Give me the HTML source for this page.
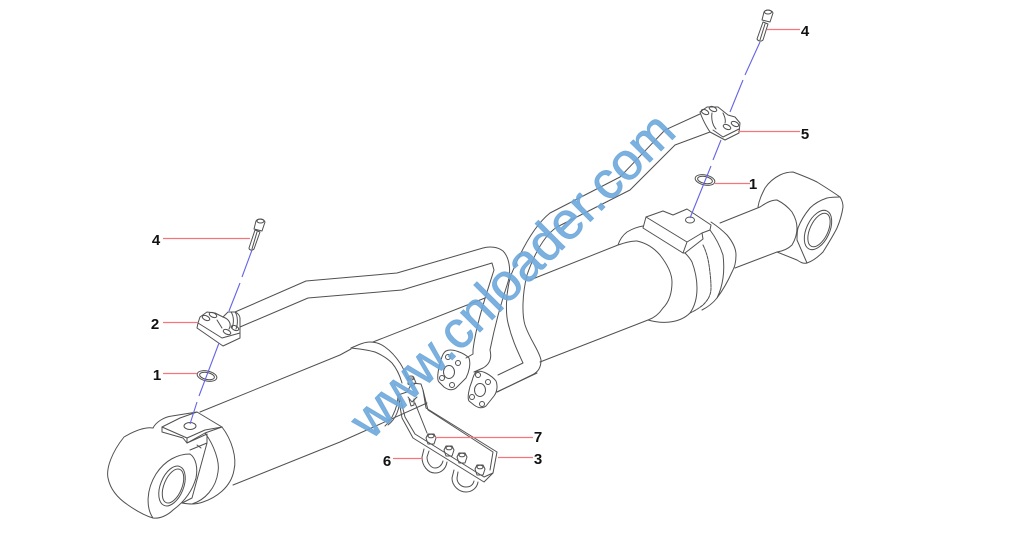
<!DOCTYPE html>
<html><head><meta charset="utf-8"><style>
html,body{margin:0;padding:0;background:#fff;width:1024px;height:551px;overflow:hidden}
svg{display:block}
.l path,.l ellipse,.l circle{fill:none;stroke:#505050;stroke-width:1;stroke-linejoin:round;stroke-linecap:round}
.r{stroke:#f4757b;stroke-width:1.2;fill:none}
.b{stroke:#6464e6;stroke-width:1.1;fill:none}
.t{font:bold 15px "Liberation Sans",sans-serif;fill:#111;text-anchor:middle}
</style></head><body>
<svg width="1024" height="551" viewBox="0 0 1024 551" xmlns="http://www.w3.org/2000/svg">
<g class="l">
<!-- cylinder long edges -->
<path d="M200 412L340 355L351 349"/>
<path d="M373 342L485 298"/>
<path d="M530 280L618 245"/>
<path d="M233 485L340 442L427 403"/>
<path d="M497 392L537 373"/>
<path d="M540 362L648 320"/>
<!-- mid band -->
<path d="M351 348C358 345 364 342 370 342C376 342 381 344 385 347C392 352 396 357 400 363C404 369 406 375 408 380"/>
<path d="M351 348C360 349 368 350 375 352C382 355 387 358 392 363C397 369 400 376 402 383"/>
<path d="M400 397C400 404 399 408 397 413C395 418 392 422 388 425"/>
<path d="M398 395C398 402 396 409 393 415C391 420 388 423 385 426"/>
<!-- right barrel end and rings -->
<path d="M618 245C624 243 630 241 637 241C646 243 654 248 660 255C667 264 672 273 672 282C672 293 669 302 663 308C659 314 654 318 648 320"/>
<path d="M618 245C620 239 623 235 627 232C632 229 637 227 643 226"/>
<path d="M648 320C655 322 662 323 670 322C678 321 685 318 690 313C695 306 697 298 697 288C697 279 695 270 692 262C690 258 687 255 685 253"/>
<path d="M703 245C706 251 708 258 709 265C710 272 711 280 711 288C711 295 708 300 703 305C698 309 694 311 690 313" stroke-dasharray="3 1"/>
<path d="M710 230C716 238 720 246 723 255C724 263 724 271 723 278C722 285 720 292 717 298C713 303 708 307 702 310"/>
<path d="M711 222C717 226 722 230 727 235C732 241 736 248 736 255C736 261 735 267 732 272C728 281 723 290 717 298"/>
<path d="M720 223L760 207C766 203 771 200 777 200C783 203 788 207 792 212C795 217 797 222 797 228C797 234 795 240 792 245C788 249 783 251 777 252L735 268"/>
<!-- right eye -->
<path d="M758 207C759 200 762 194 765 188C769 182 774 178 780 175C784 173 789 172 793 172C801 175 809 178 817 182C825 187 833 192 840 197C842 200 843 203 843 207C842 214 840 221 837 228C833 236 828 244 823 252C818 257 813 261 807 263C803 264 800 262 797 260L777 252"/>
<path d="M797 240C797 236 797 232 798 228C801 220 805 214 810 208C815 203 821 200 827 198C832 197 836 197 840 197"/>
<path d="M797 240L807 263"/>
<ellipse cx="818" cy="230" rx="11.500" ry="21" transform="rotate(25 818 230)"/>
<ellipse cx="819" cy="230" rx="9" ry="18" transform="rotate(25 819 230)"/>
<!-- right block -->
<path d="M643 228L646 217L663 211L673 215L687 209L711 225L710 230L702 233L703 239L685 253L683 253Z"/>
<path d="M646 217L687 242L683 253M687 242L702 233"/>
<ellipse cx="690" cy="220" rx="4.500" ry="3"/>
<!-- left eye -->
<path d="M153 428C146 427 136 430 124 437C112 452 106 468 108 478C110 488 116 497 128 505C138 512 146 516 153 518C160 519 168 515 173 510"/>
<path d="M153 518C146 508 146 490 156 474C165 460 178 454 190 454C196 458 198 468 196 478C192 492 184 502 173 510"/>
<ellipse cx="172" cy="486" rx="11.500" ry="21" transform="rotate(22 172 486)"/>
<ellipse cx="173" cy="486" rx="9" ry="18" transform="rotate(22 173 486)"/>
<path d="M153 428C156 422 164 417 172 416L197 412"/>
<path d="M222 427C232 440 237 458 234 470C231 488 215 498 203 502C195 505 188 504 182 503"/>
<path d="M205 433C214 445 220 462 218 472C216 488 205 500 192 504"/>
<!-- left block -->
<path d="M162 432L162 427L180 418L197 412L222 427L205 433L187 443L183 438L162 432Z"/>
<path d="M162 427L187 438L187 443M187 438L205 430L222 427"/>
<ellipse cx="190" cy="426" rx="6" ry="3.500"/>
<path d="M187 443L207 434L207 443L190 450M207 443L192 498L182 503"/>
<path d="M197 445L201 448"/>
<!-- left tube -->
<path d="M235 312L306 281L397 273L483 248C490 246 498 247 503 251C510 258 511 272 508 282C502 300 495 325 490 350C492 358 490 364 483 368L474 372"/>
<path d="M240 327L308 298L402 290L492 263L494 270C486 295 476 325 473 350L473 354L466 358"/>
<!-- right tube -->
<path d="M700 114L665 130L620 177L550 213C535 225 522 248 511 275C505 295 506 315 508 323C512 340 518 352 523 363L498 375"/>
<path d="M710 132L675 145L630 190L557 227C545 235 535 252 527 275C522 295 522 315 525 325C530 340 539 350 541 360C541 368 538 372 532 375L497 392"/>
<!-- flanges -->
<path d="M446 351C452 348 464 353 469 358C471 364 469 372 466 378L456 388C452 391 448 390 444 387L439 382C436 379 439 366 441 360C442 356 444 352 446 351Z"/>
<circle cx="448" cy="357" r="2.500"/><circle cx="458" cy="363" r="2.500"/><circle cx="442" cy="378" r="2.500"/><circle cx="452" cy="385" r="2.500"/>
<ellipse cx="449" cy="372" rx="5.500" ry="6.500"/>
<path d="M476 372C482 369 492 376 496 381C498 386 497 392 494 396L486 406C482 409 478 408 474 405L469 401C467 398 469 388 472 381C473 377 474 374 476 372Z"/>
<circle cx="478" cy="375" r="2.500"/><circle cx="488" cy="382" r="2.500"/><circle cx="472" cy="397" r="2.500"/><circle cx="482" cy="404" r="2.500"/>
<ellipse cx="480" cy="390" rx="5.500" ry="6.500"/>
<!-- bracket -->
<path d="M398 395L407 392L412 383L421 384L423 390L426 408L497 452L493 473L484 482L413 438L402 418L398 395"/>
<path d="M400 397L405 417L415 434L484 477L493 473"/>
<path d="M423 390L428 410L493 452L490 470"/>
<path d="M415 403L427 433"/>
<path d="M408 397L412 402L417 397"/>
<path d="M408 378L414 378L416 383L412 386L408 384Z"/>
<ellipse cx="411" cy="378" rx="3" ry="2"/>
<path d="M409 399L411 406L414 405L414 399"/>
<!-- u-bolts -->
<path d="M424 449L422 457C422 466 428 473 435 473C441 473 446 469 447 462"/>
<path d="M429 451L427 457C427 463 431 468 435 468C439 468 442 465 443 461"/>
<path d="M454 470L452 478C452 486 459 492 466 492C472 492 477 488 478 482"/>
<path d="M458 472L457 478C457 483 461 487 466 487C470 487 473 485 474 481"/>
<!-- nuts -->
<path d="M426 438L428 434L434 434L436 438L434 444L428 444Z"/><ellipse cx="431" cy="436" rx="3" ry="1.800"/>
<path d="M444 450L446 446L452 446L454 450L452 456L446 456Z"/><ellipse cx="449" cy="448" rx="3" ry="1.800"/>
<path d="M457 457L459 453L465 453L467 457L465 463L459 463Z"/><ellipse cx="462" cy="455" rx="3" ry="1.800"/>
<path d="M475 469L477 465L483 465L485 469L483 475L477 475Z"/><ellipse cx="480" cy="467" rx="3" ry="1.800"/>
<!-- left clamp -->
<path d="M197 328L198 323L200 317L207 312L215 313L223 317L228 312L235 312C238 313 240 316 240 318L240 338L223 346Z"/>
<path d="M198 323L222 338L240 333"/>
<path d="M217 320L222 328M223 317C229 319 232 324 229 329"/>
<path d="M235 312C238 316 238 324 236 329"/>
<path d="M231 312C234 316 234 323 232 328"/>
<ellipse cx="206" cy="318" rx="4" ry="2.200" transform="rotate(25 206 318)"/>
<ellipse cx="213" cy="315" rx="4" ry="2.200" transform="rotate(25 213 315)"/>
<ellipse cx="227" cy="332" rx="4" ry="2.200" transform="rotate(25 227 332)"/>
<ellipse cx="235" cy="328" rx="4" ry="2.200" transform="rotate(25 235 328)"/>
<!-- right clamp -->
<path d="M700 112L707 107L718 107L728 115L735 117L740 123L739 133L725 140L710 132C706 126 702 118 700 112Z"/>
<path d="M713 130L723 137L739 129"/>
<path d="M712 113C711 120 713 126 716 129M723 113C725 117 726 120 725 123"/>
<ellipse cx="705" cy="112" rx="4" ry="2.200" transform="rotate(25 705 112)"/>
<ellipse cx="713" cy="109" rx="4" ry="2.200" transform="rotate(25 713 109)"/>
<ellipse cx="727" cy="127" rx="4" ry="2.200" transform="rotate(25 727 127)"/>
<ellipse cx="735" cy="124" rx="4" ry="2.200" transform="rotate(25 735 124)"/>
<!-- bolts -->
<path d="M256 221C258 218 264 219 265 222L262 231L254 229Z"/><ellipse cx="260.500" cy="221" rx="3.500" ry="2"/>
<path d="M255 230L260 232L254 249C252 251 249 250 249 248Z"/>
<path d="M257 232L252 249"/>
<path d="M764 12C766 9 772 10 773 13L770 22L762 20Z"/><ellipse cx="768" cy="12" rx="3.500" ry="2"/>
<path d="M763 22L768 24L763 40C761 42 758 41 757 39Z"/>
<path d="M765 24L760 40"/>
<!-- rings -->
<ellipse cx="207" cy="376" rx="10" ry="5" transform="rotate(12 207 376)"/>
<ellipse cx="207" cy="376" rx="7.500" ry="3.500" transform="rotate(12 207 376)"/>
<ellipse cx="705" cy="180" rx="10" ry="5" transform="rotate(12 705 180)"/>
<ellipse cx="705" cy="180" rx="7.500" ry="3.500" transform="rotate(12 705 180)"/>
</g>
<!-- centre lines -->
<path class="b" d="M252 250L242 277M240 283L229 311M219 343L199 396M197 402L190 424"/>
<path class="b" d="M760 42L745 75M743 80L730 112M721 140L713 160M711 166L690 218"/>
<!-- leaders -->
<path class="r" d="M163 238.500H250M163 322.500H198M163 373.500H197M393 458.500H423M435 437.500H533M498 457.500H533M767 29.500H800M738 131.500H800M715 183.500H750"/>
<g class="t">
<text x="156" y="245">4</text>
<text x="155" y="329">2</text>
<text x="157" y="380">1</text>
<text x="387" y="466">6</text>
<text x="538" y="442">7</text>
<text x="538" y="464">3</text>
<text x="805" y="36">4</text>
<text x="805" y="139">5</text>
<text x="753" y="189">1</text>
</g>
<text transform="translate(371 441) rotate(-45)" font-family="Liberation Sans, sans-serif" font-size="52" textLength="434" lengthAdjust="spacingAndGlyphs" fill="#6ea8dc" fill-opacity=".9" stroke="#6ea8dc" stroke-width=".8" stroke-opacity=".9">www.cnloader.com</text>
</svg>
</body></html>
